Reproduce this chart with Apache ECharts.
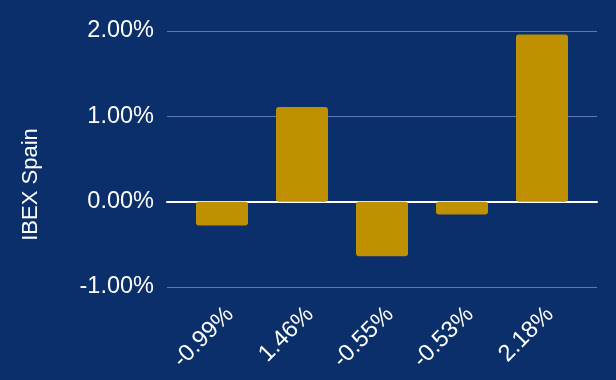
<!DOCTYPE html>
<html><head><meta charset="utf-8">
<script src="https://cdn.jsdelivr.net/npm/echarts@6/dist/echarts.min.js"></script>
<style>html,body{margin:0;padding:0;background:#0a2f6b}#c{width:616px;height:380px}</style>
</head><body><div id="c"></div>
<script>
const categories = ['-0.99%', '1.46%', '-0.55%', '-0.53%', '2.18%'];
const values = [-0.28, 1.11, -0.64, -0.15, 1.96];
const yMin = -1, yMax = 2, yStep = 1;
const axisTitle = 'IBEX Spain';

const FONT = "'Liberation Sans', Arial, sans-serif";
const chart = echarts.init(document.getElementById('c'));
const gTop = 31, gBottom = 93;
chart.setOption({
  backgroundColor: '#0a2f6b',
  animation: false,
  grid: [
    { left: 167, right: 19, top: gTop, bottom: gBottom },
    { left: 182, right: 34, top: gTop, bottom: gBottom },
    { left: 190, right: 26, top: gTop, bottom: gBottom }
  ],
  xAxis: [
    { type: 'value', gridIndex: 0, min: 0, max: 1, z: 1,
      axisLine: { show: true, onZero: true, lineStyle: { color: '#ffffff', width: 2 } },
      axisTick: { show: false }, axisLabel: { show: false }, splitLine: { show: false } },
    { type: 'category', gridIndex: 1, data: categories,
      axisLine: { show: false }, axisTick: { show: false }, axisLabel: { show: false }, splitLine: { show: false } },
    { type: 'category', gridIndex: 2, data: categories,
      axisLine: { show: false }, axisTick: { show: false }, splitLine: { show: false },
      axisLabel: { show: true, rotate: 45, margin: 24, interval: 0, color: '#ffffff', fontSize: 23.5, fontFamily: FONT } }
  ],
  yAxis: [
    { type: 'value', gridIndex: 0, min: yMin, max: yMax, interval: yStep,
      axisLine: { show: false }, axisTick: { show: false },
      axisLabel: { color: '#ffffff', fontSize: 23.5, fontFamily: FONT, margin: 13,
        formatter: v => v.toFixed(2) + '%' },
      splitLine: { show: true, lineStyle: { color: '#5a7bab', width: 1 } } },
    { type: 'value', gridIndex: 1, min: yMin, max: yMax, interval: yStep, show: false },
    { type: 'value', gridIndex: 2, min: yMin, max: yMax, interval: yStep, show: false }
  ],
  series: [{
    type: 'bar', xAxisIndex: 1, yAxisIndex: 1, data: values, barWidth: 52, z: 3,
    itemStyle: { color: '#bf9000', borderRadius: 3 }
  }],
  graphic: [{
    type: 'text', x: 31, y: 184.5, rotation: Math.PI / 2,
    style: { text: axisTitle, fill: '#ffffff', fontSize: 22, fontFamily: FONT, align: 'center', verticalAlign: 'middle' }
  }]
});
</script></body></html>
